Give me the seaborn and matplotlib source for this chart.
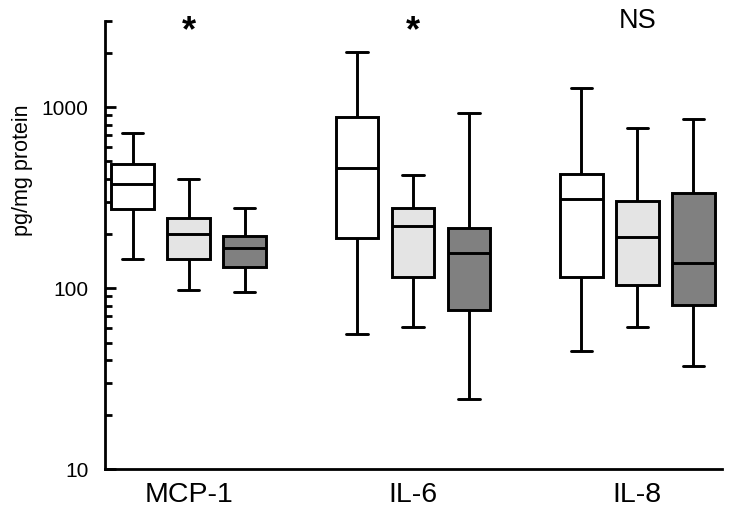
import pandas as pd
import matplotlib
matplotlib.use("Agg")
import matplotlib.pyplot as plt
import matplotlib.ticker as mticker
import seaborn as sns

# five-number summaries: min, Q1, median, Q3, max
cytokines = ["MCP-1", "IL-6", "IL-8"]
groups = ["Group 1", "Group 2", "Group 3"]
group1 = [[145, 273, 377, 484, 716], [56, 189, 458, 877, 2020], [45, 115, 310, 427, 1273]]
group2 = [[97, 145, 199, 243, 402], [61, 115, 219, 278, 420], [61, 104, 191, 301, 766]]
group3 = [[95, 130, 166, 195, 276], [24.5, 76, 157, 214, 923], [37, 81, 137, 334, 858]]
signif = ["*", "*", "NS"]
fills = ["#ffffff", "#e4e4e4", "#808080"]

rows = []
for g, summary in zip(groups, [group1, group2, group3]):
    for c, vals in zip(cytokines, summary):
        for v in vals:
            rows.append({"cytokine": c, "group": g, "value": v})
df = pd.DataFrame(rows)

sns.set_style("ticks", {"axes.edgecolor": "black", "text.color": "black",
                        "xtick.color": "black", "ytick.color": "black",
                        "axes.labelcolor": "black"})
plt.rcParams["font.family"] = ["Liberation Sans", "DejaVu Sans"]

fig = plt.figure(figsize=(7.29, 5.16), dpi=100)
ax = fig.add_axes([0.144, 0.091, 0.847, 0.869])

sns.boxplot(data=df, x="cytokine", y="value", hue="group", order=cytokines,
            hue_order=groups, palette=fills, whis=(0, 100), width=0.75, gap=0.24,
            linecolor="black", linewidth=2.1, legend=False, ax=ax, log_scale=True)

ax.set_ylim(10, 3000)
ax.set_xlim(-0.373, 2.379)
ax.yaxis.set_major_locator(mticker.FixedLocator([10, 100, 1000]))
ax.yaxis.set_major_formatter(mticker.FixedFormatter(["10", "100", "1000"]))
ax.yaxis.set_minor_locator(mticker.LogLocator(base=10, subs=range(2, 10)))
ax.yaxis.set_minor_formatter(mticker.NullFormatter())
ax.tick_params(axis="y", which="major", direction="in", length=8, width=2,
               labelsize=15, pad=12, colors="black")
ax.tick_params(axis="y", which="minor", direction="in", length=5, width=2, colors="black")
ax.tick_params(axis="x", length=0, labelsize=20.5, pad=9, colors="black")
ax.set_xlabel("")
ax.set_ylabel("pg/mg protein", fontsize=15.5, color="black")
ax.yaxis.set_label_coords(-0.116, 0.667)
sns.despine(ax=ax)
for s in ["left", "bottom"]:
    ax.spines[s].set_linewidth(2)
    ax.spines[s].set_color("black")

for i, t in enumerate(signif):
    if t == "*":
        ax.text(i, 0.955, t, transform=ax.get_xaxis_transform(), ha="center",
                va="baseline", fontsize=26, fontweight="bold", color="black", clip_on=False)
    else:
        ax.text(i, 0.983, t, transform=ax.get_xaxis_transform(), ha="center",
                va="baseline", fontsize=19.5, color="black", clip_on=False)

fig.savefig("out.png", dpi=100)
